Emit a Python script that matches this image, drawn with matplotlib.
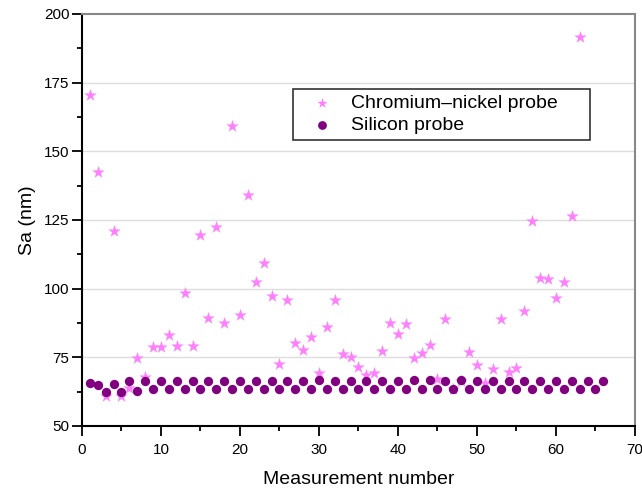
import matplotlib
matplotlib.use("Agg")
import matplotlib.pyplot as plt
from matplotlib.ticker import MultipleLocator

plt.rcParams['font.family'] = ['Liberation Sans', 'DejaVu Sans']

cr_x = list(range(1, 64))
cr_y = [170.5, 142.5, 60.8, 121.0, 60.8, 64.0, 74.8, 68.0, 78.8, 78.8,
        83.2, 79.0, 98.4, 79.2, 119.5, 89.3, 122.5, 87.5, 159.2, 90.5,
        134.0, 102.4, 109.3, 97.4, 72.5, 95.9, 80.1, 77.7, 82.5, 69.2,
        85.9, 95.9, 76.2, 75.0, 71.4, 68.6, 69.2, 77.3, 87.6, 83.4,
        87.0, 74.6, 76.5, 79.5, 67.1, 88.8, 63.5, 66.4, 76.8, 72.2,
        65.5, 70.6, 89.0, 69.8, 71.1, 92.0, 124.7, 104.0, 103.4, 96.5,
        102.3, 126.6, 191.7]

si_x = list(range(1, 67))
si_y = [65.7, 64.9, 62.3, 65.2, 62.5, 66.4, 62.7, 66.4, 63.5, 66.4,
        63.5, 66.4, 63.5, 66.4, 63.5, 66.4, 63.5, 66.4, 63.5, 66.4,
        63.5, 66.4, 63.5, 66.4, 63.5, 66.4, 63.5, 66.4, 63.5, 66.6,
        63.5, 66.4, 63.5, 66.4, 63.5, 66.4, 63.5, 66.4, 63.5, 66.4,
        63.5, 66.6, 63.5, 66.6, 63.5, 66.4, 63.5, 66.7, 63.5, 66.4,
        63.5, 66.4, 63.5, 66.4, 63.3, 66.4, 63.5, 66.4, 63.5, 66.4,
        63.5, 66.4, 63.5, 66.4, 63.3, 66.4]

fig = plt.figure(figsize=(6.42, 4.91), dpi=100)
ax = fig.add_axes([0.1277, 0.1324, 0.8613, 0.8391])

ax.scatter(cr_x, cr_y, marker='*', s=90, color='#FF80FF', linewidths=0,
           label='Chromium\u2013nickel probe', zorder=3)
ax.scatter(si_x, si_y, marker='o', s=45, color='#800080', linewidths=0,
           label='Silicon probe', zorder=4)

ax.set_xlim(0, 70)
ax.set_ylim(50, 200)
ax.xaxis.set_major_locator(MultipleLocator(10))
ax.xaxis.set_minor_locator(MultipleLocator(5))
ax.yaxis.set_major_locator(MultipleLocator(25))
ax.yaxis.set_minor_locator(MultipleLocator(12.5))
ax.tick_params(which='major', direction='out', length=7, width=1.3, labelsize=11)
ax.tick_params(which='minor', direction='out', length=3.5, width=1.3)
ax.tick_params(axis='x', which='major', pad=5)
ax.tick_params(axis='y', which='major', pad=2)

for y in [75, 100, 125, 150, 175]:
    ax.axhline(y, color='#DDDDDD', lw=1, zorder=0)

ax.spines['left'].set_linewidth(1.5)
ax.spines['bottom'].set_linewidth(1.5)
ax.spines['top'].set_color('#888888')
ax.spines['right'].set_color('#888888')
ax.spines['top'].set_linewidth(1.5)
ax.spines['right'].set_linewidth(1.5)

ax.set_xlabel('Measurement number', fontsize=14, labelpad=10)
ax.set_ylabel('Sa (nm)', fontsize=14, labelpad=6)

leg = ax.legend(loc='upper left', bbox_to_anchor=(0.3816, 0.694, 0.537, 0.124),
                mode='expand', borderaxespad=0, fontsize=14,
                frameon=True, fancybox=False, edgecolor='black',
                handlelength=2.4, handletextpad=0.3, borderpad=0.3,
                labelspacing=0.2, scatterpoints=1)
leg.get_frame().set_linewidth(1.2)
leg.legend_handles[0].set_sizes([60])
leg.legend_handles[1].set_sizes([40])

fig.savefig('out.png', dpi=100)
